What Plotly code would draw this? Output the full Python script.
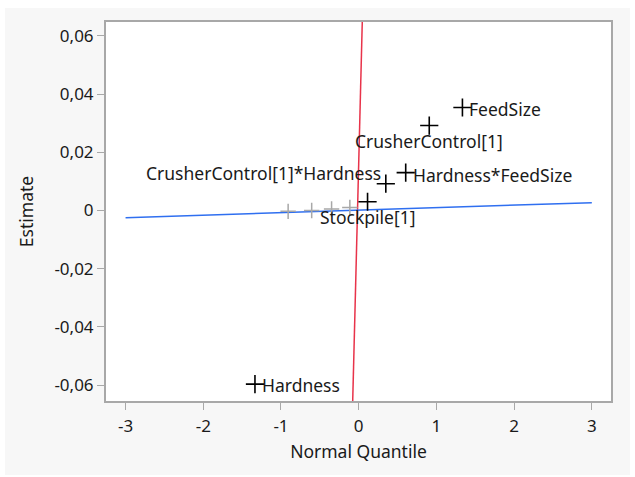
import plotly.graph_objects as go

# ---- data ----
quantiles = [-1.335, -0.908, -0.605, -0.349, -0.114, 0.114, 0.349, 0.605, 0.908, 1.335]
estimates = [-0.0597, -0.0003, 0.0000, 0.0005, 0.0010, 0.0030, 0.0092, 0.0130, 0.0292, 0.0354]
terms = ["Hardness", "", "", "", "", "Stockpile[1]", "CrusherControl[1]*Hardness",
         "Hardness*FeedSize", "CrusherControl[1]", "FeedSize"]

red_x = [0.046, -0.077]
red_y = [0.0648, -0.0655]
blue_x = [-3, 3]
blue_y = [-0.0025, 0.0027]

x_ticks = [-3, -2, -1, 0, 1, 2, 3]
x_ticktext = ["-3", "-2", "-1", "0", "1", "2", "3"]
y_ticks = [-0.06, -0.04, -0.02, 0, 0.02, 0.04, 0.06]
y_ticktext = ["-0,06", "-0,04", "-0,02", "0", "0,02", "0,04", "0,06"]

# label placement: (xanchor, yanchor, xshift, yshift)
label_pos = {
    "Hardness": ("left", "middle", 5, -1),
    "Stockpile[1]": ("center", "top", 0, -1),
    "CrusherControl[1]*Hardness": ("right", "middle", -3, 11),
    "Hardness*FeedSize": ("left", "middle", 5, -2),
    "CrusherControl[1]": ("center", "middle", 0, -15),
    "FeedSize": ("left", "middle", 5, -1),
}

FONT = "Noto Sans"
TXT = "#1a1a1a"
fig = go.Figure()

fig.add_trace(go.Scatter(x=red_x, y=red_y, mode="lines",
                         line=dict(color="#e8334a", width=1.5), hoverinfo="skip"))
fig.add_trace(go.Scatter(x=blue_x, y=blue_y, mode="lines",
                         line=dict(color="#2f6ff0", width=1.5), hoverinfo="skip"))

gx = [q for q, t in zip(quantiles, terms) if t == ""]
gy = [e for e, t in zip(estimates, terms) if t == ""]
bx = [q for q, t in zip(quantiles, terms) if t != ""]
by = [e for e, t in zip(estimates, terms) if t != ""]

fig.add_trace(go.Scatter(x=gx, y=gy, mode="markers",
                         marker=dict(symbol="cross-thin", size=11,
                                     line=dict(color="#a8a8a8", width=1.5))))
fig.add_trace(go.Scatter(x=bx, y=by, mode="markers",
                         marker=dict(symbol="cross-thin", size=13,
                                     line=dict(color="black", width=1.6))))

for q, e, t in zip(quantiles, estimates, terms):
    if not t:
        continue
    xa, ya, xs, ys = label_pos[t]
    fig.add_annotation(x=q, y=e, text=t, showarrow=False, xanchor=xa, yanchor=ya,
                       xshift=xs, yshift=ys, font=dict(family=FONT, size=17.5, color=TXT))

fig.update_layout(
    width=635, height=477,
    margin=dict(l=106, r=24, t=22, b=76),
    paper_bgcolor="white",
    plot_bgcolor="white",
    showlegend=False,
    font=dict(family=FONT, size=17, color=TXT),
    shapes=[
        dict(type="rect", xref="paper", yref="paper", x0=-0.2, x1=1.0376,
             y0=-0.195, y1=1.037, fillcolor="#f7f7f7", line=dict(width=0), layer="below"),
        dict(type="rect", xref="paper", yref="paper", x0=0, x1=1, y0=0, y1=1,
             fillcolor="white", line=dict(width=0), layer="below"),
    ],
)

fig.update_xaxes(
    range=[-3.252, 3.247], tickvals=x_ticks, ticktext=x_ticktext,
    showgrid=False, zeroline=False, showline=True, mirror=True,
    linecolor="#a8a8a8", linewidth=2, ticks="outside", ticklen=7, tickcolor="#a8a8a8",
    ticklabelstandoff=2,
    tickfont=dict(family=FONT, size=17, color=TXT),
    title=dict(text="Normal Quantile", font=dict(family=FONT, size=17.5, color=TXT), standoff=9),
)
fig.update_yaxes(
    range=[-0.0655, 0.0648], tickvals=y_ticks, ticktext=y_ticktext,
    showgrid=False, zeroline=False, showline=True, mirror=True,
    linecolor="#a8a8a8", linewidth=2, ticks="outside", ticklen=7, tickcolor="#a8a8a8",
    tickfont=dict(family=FONT, size=17, color=TXT),
    title=dict(text="Estimate", font=dict(family=FONT, size=17.5, color=TXT), standoff=16),
)

fig.write_html("out.html")
